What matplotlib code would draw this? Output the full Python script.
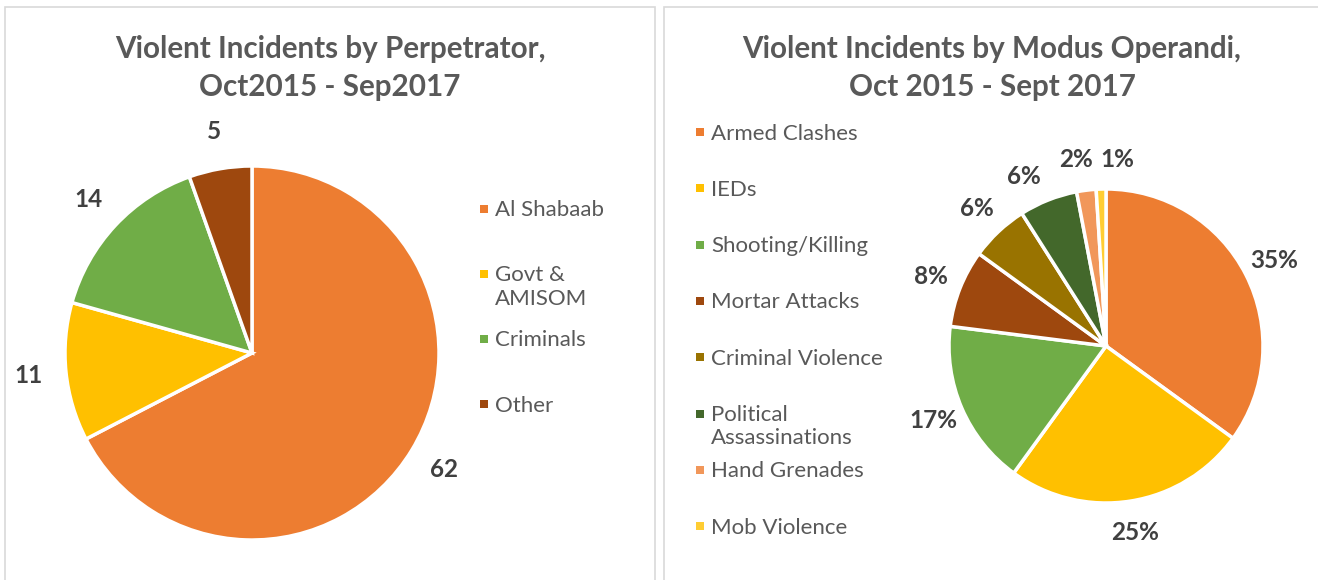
import matplotlib.pyplot as plt
from matplotlib.patches import Rectangle

plt.rcParams['font.family'] = ['Lato', 'DejaVu Sans']

# left chart: incidents by perpetrator
perp_labels = ["Al Shabaab", "Govt &\nAMISOM", "Criminals", "Other"]
perp_values = [62, 11, 14, 5]
perp_colors = ["#ED7D31", "#FFC000", "#70AD47", "#9E480E"]

# right chart: incidents by modus operandi (percent)
mo_labels = ["Armed Clashes", "IEDs", "Shooting/Killing", "Mortar Attacks",
             "Criminal Violence", "Political\nAssassinations", "Hand Grenades",
             "Mob Violence"]
mo_values = [35, 25, 17, 8, 6, 6, 2, 1]
mo_colors = ["#ED7D31", "#FFC000", "#70AD47", "#9E480E",
             "#997300", "#43682B", "#F1975A", "#FFCD33"]

W, H = 1318, 580
fig = plt.figure(figsize=(W / 100, H / 100), dpi=100)


def fx(px):
    return px / W


def fy(py):
    return 1 - py / H


# panel borders
for x0, x1 in [(5, 655), (664, 1330)]:
    fig.add_artist(Rectangle((fx(x0), fy(590)), fx(x1 - x0), (590 - 7) / H,
                             transform=fig.transFigure, fill=False,
                             edgecolor="#D9D9D9", linewidth=1.2))

title_kw = dict(ha="center", va="center", fontsize=21.3, fontweight="bold",
                color="#595959", linespacing=1.45)
fig.text(fx(330), fy(68), "Violent Incidents by Perpetrator,\nOct2015 - Sep2017", **title_kw)
fig.text(fx(992), fy(68), "Violent Incidents by Modus Operandi,\nOct 2015 - Sept 2017", **title_kw)


def draw_pie(cx, cy, r, values, colors, labels):
    ax = fig.add_axes([fx(cx - r), fy(cy + r), fx(2 * r), 2 * r / H])
    wedges, texts = ax.pie(values, colors=colors, labels=labels, startangle=90,
                           counterclock=False, labeldistance=1.2,
                           wedgeprops=dict(edgecolor="white", linewidth=2.5),
                           textprops=dict(fontsize=17.5, fontweight="bold",
                                          color="#404040"))
    for t in texts:
        t.set_ha("center")
        t.set_va("center")
    ax.set_xlim(-1, 1)
    ax.set_ylim(-1, 1)
    return ax, texts


draw_pie(252, 353, 187, perp_values, perp_colors, [str(v) for v in perp_values])
ax2, mo_texts = draw_pie(1106, 346, 157, mo_values, mo_colors, [f"{v}%" for v in mo_values])
# crowded labels of the small slices, placed like the original
mo_texts[-3].set_position((-0.52, 1.08))
mo_texts[-2].set_position((-0.19, 1.19))
mo_texts[-1].set_position((0.07, 1.19))


def draw_legend(xm, y0, step, labels, colors):
    for i, (lab, col) in enumerate(zip(labels, colors)):
        y = y0 + i * step
        fig.add_artist(Rectangle((fx(xm - 4), fy(y + 4)), fx(8), 8 / H,
                                 transform=fig.transFigure, facecolor=col,
                                 edgecolor="none"))
        fig.text(fx(xm + 11), fy(y - 8.5), lab, ha="left", va="top",
                 fontsize=16, color="#595959", linespacing=1.2)


draw_legend(484, 209, 65, perp_labels, perp_colors)
draw_legend(700, 132, 56.3, mo_labels, mo_colors)

fig.savefig("out.png", dpi=100)
